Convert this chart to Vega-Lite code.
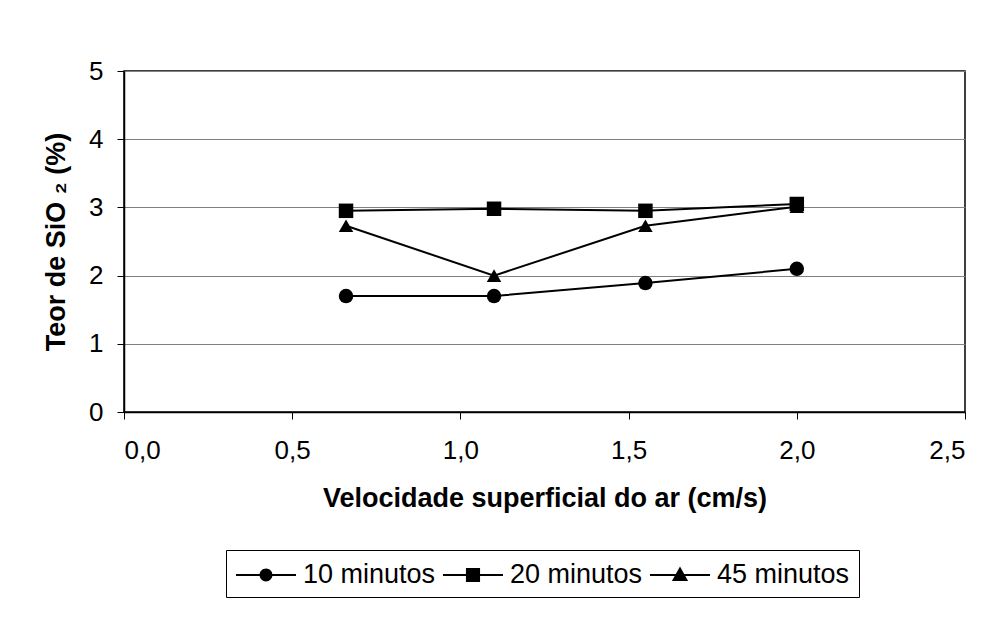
{
  "$schema": "https://vega.github.io/schema/vega-lite/v6.json",
  "width": 841,
  "height": 341,
  "autosize": {"type": "none"},
  "padding": {"left": 124, "top": 71, "right": 28, "bottom": 211},
  "background": "white",
  "config": {
    "font": "Liberation Sans",
    "view": {"stroke": "black", "strokeWidth": 1.5},
    "axis": {
      "domainColor": "black",
      "domainWidth": 1.5,
      "tickColor": "black",
      "tickSize": 7,
      "labelColor": "black",
      "labelFont": "Liberation Sans",
      "labelFontSize": 26,
      "titleFont": "Liberation Sans",
      "titleFontSize": 27,
      "titleFontWeight": "bold",
      "titleColor": "black",
      "gridColor": "#808080",
      "gridWidth": 1.2,
      "gridOpacity": 1
    }
  },
  "data": {
    "values": [
      {"serie": "10 minutos", "v": 0.66, "t": 1.70},
      {"serie": "10 minutos", "v": 1.10, "t": 1.70},
      {"serie": "10 minutos", "v": 1.55, "t": 1.89},
      {"serie": "10 minutos", "v": 2.00, "t": 2.10},
      {"serie": "20 minutos", "v": 0.66, "t": 2.95},
      {"serie": "20 minutos", "v": 1.10, "t": 2.98},
      {"serie": "20 minutos", "v": 1.55, "t": 2.95},
      {"serie": "20 minutos", "v": 2.00, "t": 3.05},
      {"serie": "45 minutos", "v": 0.66, "t": 2.73},
      {"serie": "45 minutos", "v": 1.10, "t": 2.00},
      {"serie": "45 minutos", "v": 1.55, "t": 2.73},
      {"serie": "45 minutos", "v": 2.00, "t": 3.01}
    ]
  },
  "encoding": {
    "x": {
      "field": "v",
      "type": "quantitative",
      "scale": {"domain": [0, 2.5], "nice": false, "zero": false},
      "axis": {
        "values": [0, 0.5, 1, 1.5, 2, 2.5],
        "labelExpr": "replace(format(datum.value, '.1f'), '.', ',')",
        "grid": false,
        "labelPadding": 18,
        "titlePadding": 22,
        "title": "Velocidade superficial do ar (cm/s)"
      }
    },
    "y": {
      "field": "t",
      "type": "quantitative",
      "scale": {"domain": [0, 5], "nice": false},
      "axis": {
        "values": [0, 1, 2, 3, 4, 5],
        "grid": true,
        "labelPadding": 14,
        "titlePadding": 18,
        "title": "Teor de SiO ₂ (%)"
      }
    }
  },
  "resolve": {"scale": {"shape": "independent"}, "legend": {"shape": "independent"}},
  "layer": [
    {
      "mark": {"type": "line", "color": "black", "strokeWidth": 2},
      "encoding": {"detail": {"field": "serie", "type": "nominal"}}
    },
    {
      "mark": {"type": "point", "filled": true, "color": "black", "opacity": 1, "size": 210},
      "encoding": {
        "shape": {
          "field": "serie",
          "type": "nominal",
          "scale": {
            "domain": ["10 minutos", "20 minutos", "45 minutos"],
            "range": ["circle", "square", "triangle-up"]
          },
          "legend": null
        }
      }
    },
    {
      "transform": [{"filter": "datum.t > 100"}],
      "mark": {"type": "point", "filled": true, "color": "black", "opacity": 1},
      "encoding": {
        "shape": {
          "field": "serie",
          "type": "nominal",
          "scale": {
            "domain": ["10 minutos", "20 minutos", "45 minutos"],
            "range": [
              "M-1,-0.06H0.6V0.06H-1ZM1.4,-0.06H3V0.06H1.4ZM0.57,0A0.43,0.43 0 1,1 1.43,0A0.43,0.43 0 1,1 0.57,0Z",
              "M-1,-0.06H0.55V0.06H-1ZM1.45,-0.06H3V0.06H1.45ZM0.53,-0.47H1.47V0.47H0.53Z",
              "M-1,-0.06H0.7V0.06H-1ZM1.3,-0.06H3V0.06H1.3ZM1,-0.56L1.54,0.4H0.46Z"
            ]
          },
          "legend": {
            "title": null,
            "orient": "none",
            "direction": "horizontal",
            "legendX": 102,
            "legendY": 479,
            "strokeColor": "black",
            "padding": 9,
            "symbolSize": 900,
            "symbolFillColor": "black",
            "symbolOpacity": 1,
            "labelFontSize": 27,
            "labelFont": "Liberation Sans",
            "labelColor": "black",
            "labelOffset": 36,
            "columnPadding": 4
          }
        }
      }
    }
  ]
}
